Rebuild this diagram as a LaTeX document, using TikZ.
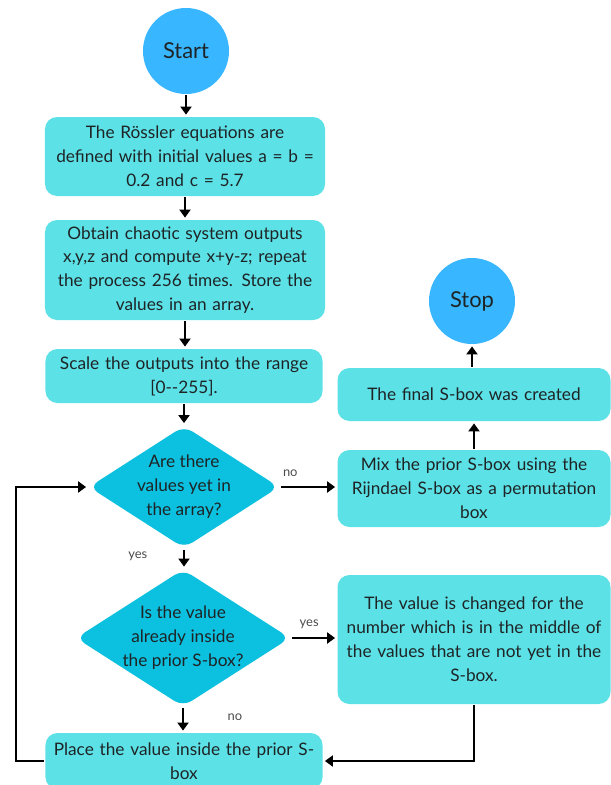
\documentclass[tikz,border=0pt]{standalone}
\usepackage{fontspec}
\setmainfont{Lato}
\usetikzlibrary{shapes.geometric,arrows.meta}
\definecolor{boxcyan}{HTML}{5CE1E6}
\definecolor{decisioncyan}{HTML}{0CC0DF}
\definecolor{termblue}{HTML}{38B6FF}
\definecolor{inktext}{HTML}{1E2426}
\begin{document}
\begin{tikzpicture}[x=1bp,y=-1bp,shorten >=1bp,line width=2.8bp,>={Triangle[length=8bp,width=11bp]},
  term node/.style={circle,fill=termblue,minimum size=86bp,inner sep=0pt,text=inktext,font=\fontsize{22}{24}\selectfont},
  process node/.style={rectangle,rounded corners=12bp,fill=boxcyan,text width=268bp,align=center,inner sep=2bp,text=inktext,font=\fontsize{17.3}{24}\selectfont},
  decision node/.style={diamond,rounded corners=10bp,fill=decisioncyan,inner sep=-16bp,align=center,text=inktext,font=\fontsize{17.3}{24}\selectfont},
  branch label/.style={font=\fontsize{13}{14}\selectfont,text=black!70}]
\useasboundingbox (0,0) rectangle (611,785);
\fill[white] (0,0) rectangle (611,785);

% left column
\node [term node](start) at (186,51) {Start};
\node [process node,minimum width=280bp,minimum height=79bp](rossler) at (185,156.5) {The Rössler equations are\\ defined with initial values a = b =\\ 0.2 and c = 5.7};
\node [process node,minimum width=280bp,minimum height=100bp](outputs) at (185,270) {Obtain chaotic system outputs\\ x,y,z and compute x+y-z; repeat\\ the process 256 times. Store the\\ values in an array.};
\node [process node,minimum width=277bp,minimum height=54bp](scale) at (184,376) {Scale the outputs into the range\\ {[0{-}{-}255].}};
\node [decision node,minimum width=191bp,minimum height=123bp](arrayq) at (184,487) {Are there\\ values yet in\\ the array?};
\node [decision node,minimum width=215bp,minimum height=138bp](insideq) at (183,638) {Is the value\\ already inside\\ the prior S-box?};
\node [process node,minimum width=277bp,minimum height=56bp](place) at (184,761) {Place the value inside the prior S-\\ box};

% right column
\node [term node](stop) at (472,301) {Stop};
\node [process node,minimum width=273bp,minimum height=53bp](final) at (474,394.5) {The final S-box was created};
\node [process node,minimum width=273bp,minimum height=77bp](mix) at (474,488.5) {Mix the prior S-box using the\\ Rijndael S-box as a permutation\\ box};
\node [process node,minimum width=273bp,minimum height=129bp](changed) at (474,639.5) {The value is changed for the\\ number which is in the middle of\\ the values that are not yet in the\\ S-box.};

\coordinate (loopback) at (16,487);

\draw [->] (start) edge (start |- rossler.north);
\draw [->] (rossler) edge (rossler |- outputs.north);
\draw [->] (outputs) edge (outputs |- scale.north);
\draw [->] (scale) edge (arrayq);
\draw [->] (arrayq) edge node[branch label,pos=0.35,left=32bp](yesone){yes} (arrayq |- insideq.north);
\draw [->] (insideq) edge node[branch label,pos=0.4,right=40bp](notwo){no} (insideq |- place.north);
\draw [->] (arrayq) edge node[branch label,pos=0.17,above=6bp](noone){no} (arrayq -| mix.west);
\draw [->] (insideq) edge node[branch label,pos=0.39,above=5bp](yestwo){yes} (insideq -| changed.west);
\draw [->] (mix) -- (mix |- final.south);
\draw [->] (final.north -| stop) -- (stop);
\draw [->] (changed.south) |- (place);
\draw [->] (place.west) -| (loopback) -- (arrayq);
\end{tikzpicture}
\end{document}
